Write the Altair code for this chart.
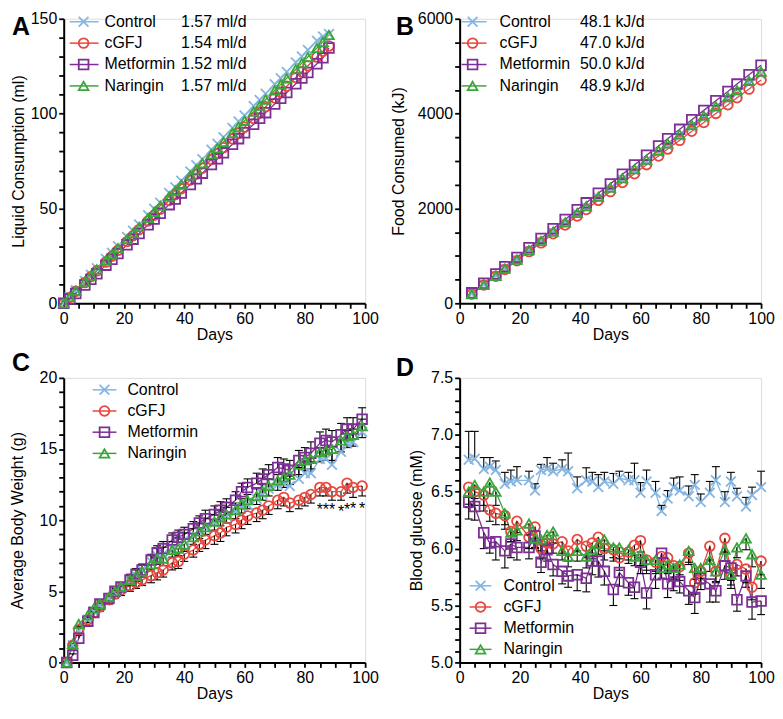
import altair as alt
import pandas as pd

FONT = "Liberation Sans"
SERIES = ["Control", "cGFJ", "Metformin", "Naringin"]
COLORS = ["#85b5e0", "#e8473d", "#7e2f95", "#3ba53b"]
SHAPES = ["M-1,-1L1,1M1,-1L-1,1", "circle", "square", "triangle-up"]

# ---------------- Panel A: liquid consumption (ml) ----------------
A_days = [0, 2, 4, 7, 9, 11, 14, 16, 18, 21, 23, 25, 28, 30, 32, 35, 37, 39, 42, 44,
          46, 49, 51, 53, 56, 58, 60, 63, 65, 67, 70, 72, 74, 77, 79, 81, 84, 86, 88]
A_control = [0.0, 3.4, 6.9, 11.8, 15.1, 18.5, 23.4, 26.6, 30.1, 35.0, 38.2, 41.5, 46.4, 49.8, 53.0,
             58.1, 61.2, 64.6, 69.5, 72.8, 76.0, 81.0, 84.1, 87.5, 92.4, 95.8, 99.0, 104.0, 107.2,
             110.5, 115.5, 118.6, 122.0, 127.0, 130.1, 133.5, 138.4, 140.6, 142.0]
A_cgfj = [0.0, 3.1, 6.3, 10.9, 14.0, 17.1, 21.7, 24.8, 27.9, 32.5, 35.6, 38.8, 43.4, 46.4, 49.6,
          54.2, 57.2, 60.4, 65.0, 68.1, 71.2, 75.8, 78.9, 82.0, 86.6, 89.7, 92.8, 97.4, 100.5,
          103.6, 108.2, 111.3, 114.4, 119.0, 122.1, 125.2, 129.8, 132.9, 135.6]
A_metformin = [0.0, 2.2, 5.1, 9.6, 12.6, 15.6, 20.1, 23.2, 26.2, 30.8, 33.8, 36.8, 41.4, 44.4, 47.4,
               52.0, 55.0, 58.1, 62.6, 65.6, 68.6, 73.2, 76.2, 79.3, 83.8, 86.8, 89.9, 94.4, 97.5,
               100.5, 105.1, 108.1, 111.1, 115.7, 118.7, 121.7, 126.3, 129.4, 134.6]
A_naringin = [0.0, 3.3, 6.6, 11.4, 14.6, 17.8, 22.6, 25.8, 29.0, 33.8, 37.0, 40.2, 45.0, 48.2, 51.4,
              56.3, 59.4, 62.6, 67.4, 70.6, 73.8, 78.6, 81.8, 85.0, 89.8, 93.0, 96.2, 101.0, 104.2,
              107.4, 112.2, 115.4, 118.6, 123.4, 126.6, 129.8, 134.6, 137.8, 141.5]
A_rates = ["1.57 ml/d", "1.54 ml/d", "1.52 ml/d", "1.57 ml/d"]

# ---------------- Panel B: food consumed (kJ) ----------------
B_days = [4, 8, 12, 15, 19, 23, 27, 31, 35, 39, 42, 46, 50, 54, 58, 62, 66, 69, 73, 77, 81, 85, 89, 92, 96, 100]
B_control = [200, 395, 583, 731, 920, 1115, 1304, 1500, 1690, 1886, 2026, 2222, 2410, 2607, 2795,
             2992, 3180, 3329, 3517, 3713, 3902, 4098, 4287, 4431, 4627, 4820]
B_cgfj = [195, 385, 570, 714, 898, 1090, 1274, 1466, 1650, 1842, 1979, 2171, 2355, 2547, 2731,
          2923, 3107, 3252, 3436, 3628, 3812, 4004, 4188, 4333, 4517, 4710]
B_metformin = [220, 422, 618, 772, 968, 1172, 1368, 1572, 1768, 1972, 2118, 2322, 2518, 2722, 2918,
               3122, 3318, 3472, 3668, 3872, 4068, 4272, 4468, 4622, 4818, 5020]
B_naringin = [190, 388, 579, 730, 922, 1121, 1313, 1512, 1704, 1904, 2046, 2246, 2437, 2637, 2829,
              3028, 3220, 3371, 3562, 3762, 3954, 4153, 4345, 4496, 4687, 4886]
B_rates = ["48.1 kJ/d", "47.0 kJ/d", "50.0 kJ/d", "48.9 kJ/d"]

# ---------------- Panel C: average body weight (g) ----------------
C_days = [1, 3, 5, 8, 10, 12, 15, 17, 19, 22, 24, 26, 29, 31, 33, 36, 38, 40, 43, 45, 47, 50,
          52, 54, 57, 59, 61, 64, 66, 68, 71, 73, 75, 78, 80, 82, 85, 87, 89, 92, 94, 96, 99]
C_control = [0.0, 1.2, 2.2, 3.0, 3.6, 4.0, 4.5, 4.9, 5.2, 5.7, 6.1, 6.5, 7.1, 7.5, 7.6, 8.0, 8.3, 8.6,
             8.9, 9.2, 9.5, 9.8, 10.1, 10.3, 10.6, 10.9, 11.1, 11.5, 11.8, 12.2, 12.5, 12.6, 12.4,
             12.9, 13.3, 13.3, 14.3, 14.3, 13.9, 14.8, 15.4, 15.5, 16.2]
C_cgfj = [0.0, 1.2, 2.3, 3.0, 3.5, 3.9, 4.4, 4.8, 5.1, 5.4, 5.6, 5.8, 6.1, 6.3, 6.5, 7.0, 7.1, 7.6,
          7.9, 8.3, 8.6, 8.9, 9.1, 9.5, 9.7, 10.0, 10.3, 10.5, 10.7, 11.0, 11.4, 11.6, 11.2, 11.4,
          11.6, 11.8, 12.3, 12.3, 12.0, 12.0, 12.6, 12.3, 12.4]
C_metformin = [0.0, 0.5, 1.7, 2.9, 3.5, 4.1, 4.5, 5.0, 5.3, 5.8, 6.2, 6.5, 7.2, 7.7, 8.0, 8.6, 8.8,
               9.0, 9.4, 9.8, 10.1, 10.4, 10.7, 10.9, 11.4, 12.0, 12.3, 12.6, 12.9, 13.2, 13.7, 13.6,
               13.5, 14.2, 14.4, 14.7, 15.4, 15.6, 15.5, 16.0, 16.4, 16.4, 17.1]
C_naringin = [0.0, 1.3, 2.7, 3.3, 3.8, 4.1, 4.6, 5.0, 5.3, 5.8, 6.1, 6.4, 6.9, 7.3, 7.3, 7.9, 8.0,
              8.3, 8.8, 9.2, 9.5, 9.9, 10.2, 10.4, 10.7, 11.1, 11.4, 11.7, 12.0, 12.4, 12.8, 13.0,
              13.2, 13.9, 14.2, 14.3, 14.8, 14.9, 15.0, 15.6, 15.9, 16.0, 16.6]
C_err_control = [0.0, 0.1, 0.2, 0.2, 0.2, 0.3, 0.3, 0.3, 0.3, 0.3, 0.4, 0.4, 0.4, 0.5, 0.5, 0.5, 0.5,
                 0.5, 0.5, 0.6, 0.6, 0.6, 0.6, 0.6, 0.6, 0.6, 0.7, 0.7, 0.7, 0.7, 0.7, 0.7, 0.7, 0.8,
                 0.8, 0.8, 0.8, 0.8, 0.8, 0.8, 0.9, 0.9, 0.9]
C_err_cgfj = [0.0, 0.1, 0.2, 0.2, 0.3, 0.3, 0.3, 0.3, 0.4, 0.4, 0.4, 0.4, 0.5, 0.5, 0.5, 0.5, 0.5,
              0.5, 0.5, 0.5, 0.6, 0.6, 0.6, 0.6, 0.6, 0.6, 0.6, 0.6, 0.6, 0.6, 0.6, 0.6, 0.6, 0.6,
              0.6, 0.6, 0.6, 0.6, 0.6, 0.6, 0.7, 0.7, 0.7]
C_err_metformin = [0.0, 0.1, 0.2, 0.2, 0.3, 0.3, 0.3, 0.3, 0.3, 0.4, 0.4, 0.4, 0.4, 0.5, 0.5, 0.5,
                   0.5, 0.5, 0.5, 0.5, 0.6, 0.6, 0.6, 0.6, 0.6, 0.6, 0.6, 0.7, 0.7, 0.7, 0.7, 0.7,
                   0.7, 0.7, 0.7, 0.8, 0.8, 0.8, 0.8, 0.8, 0.8, 0.8, 0.8]
C_err_naringin = [0.0, 0.1, 0.2, 0.2, 0.2, 0.3, 0.3, 0.3, 0.3, 0.4, 0.4, 0.4, 0.4, 0.4, 0.5, 0.5,
                  0.5, 0.5, 0.5, 0.5, 0.5, 0.6, 0.6, 0.6, 0.6, 0.6, 0.6, 0.6, 0.6, 0.7, 0.7, 0.7,
                  0.7, 0.7, 0.7, 0.7, 0.7, 0.7, 0.8, 0.8, 0.8, 0.8, 0.8]
C_star_days = [85, 87, 89, 92, 94, 96, 99]
C_star_y = [11.0, 11.0, 11.0, 10.85, 11.0, 11.05, 11.05]

# ---------------- Panel D: blood glucose (mM) ----------------
D_days = [3, 5, 8, 10, 12, 15, 17, 19, 23, 25, 27, 29, 31, 34, 36, 39, 42, 44, 46, 48, 51,
          53, 56, 58, 60, 62, 65, 67, 69, 71, 73, 76, 78, 80, 83, 85, 88, 90, 92, 95, 97, 100]
D_control = [6.78, 6.79, 6.70, 6.72, 6.69, 6.57, 6.59, 6.60, 6.60, 6.51, 6.69, 6.70, 6.68, 6.70,
             6.68, 6.53, 6.60, 6.59, 6.54, 6.59, 6.57, 6.62, 6.60, 6.60, 6.49, 6.59, 6.49, 6.33,
             6.44, 6.54, 6.51, 6.46, 6.56, 6.41, 6.49, 6.60, 6.41, 6.59, 6.46, 6.37, 6.47, 6.54]
D_cgfj = [6.54, 6.50, 6.47, 6.34, 6.31, 6.29, 6.15, 6.24, 6.10, 6.19, 6.00, 6.05, 6.04, 6.06,
          5.98, 6.08, 6.02, 6.05, 6.10, 6.00, 5.99, 5.92, 5.97, 6.03, 6.07, 5.90, 5.88, 5.93,
          5.92, 5.85, 5.84, 5.96, 5.70, 5.80, 6.02, 5.80, 6.09, 5.78, 5.86, 5.82, 5.66, 5.89]
D_metformin = [6.41, 6.37, 6.14, 6.05, 6.06, 5.98, 6.04, 6.01, 6.01, 6.11, 5.88, 5.99, 5.86, 5.80,
               5.76, 5.77, 5.74, 5.89, 5.89, 5.80, 5.64, 5.79, 5.70, 5.66, 5.88, 5.61, 5.77, 5.96,
               5.69, 5.76, 5.71, 5.63, 5.57, 5.74, 5.69, 5.63, 5.85, 5.83, 5.55, 5.76, 5.53, 5.54]
D_naringin = [6.50, 6.56, 6.50, 6.58, 6.50, 6.31, 6.14, 6.16, 6.22, 6.09, 6.08, 6.12, 6.15, 5.98,
              5.93, 5.98, 5.93, 5.99, 6.04, 6.08, 6.01, 6.01, 5.99, 5.93, 5.95, 5.90, 5.90, 5.83,
              5.86, 5.83, 5.86, 5.98, 5.83, 5.83, 5.90, 5.80, 5.99, 5.77, 6.01, 6.09, 5.95, 5.77]
D_err_control = [0.25, 0.24, 0.10, 0.08, 0.08, 0.10, 0.10, 0.12, 0.08, 0.06, 0.05, 0.10, 0.07, 0.08,
                 0.16, 0.10, 0.11, 0.08, 0.11, 0.08, 0.09, 0.06, 0.07, 0.15, 0.09, 0.10, 0.10, 0.05,
                 0.07, 0.08, 0.12, 0.09, 0.09, 0.07, 0.10, 0.12, 0.09, 0.08, 0.07, 0.08, 0.07, 0.14]
D_err_cgfj = [0.15, 0.12, 0.14, 0.10, 0.10, 0.12, 0.09, 0.10, 0.10, 0.10, 0.09, 0.10, 0.08, 0.10,
              0.09, 0.10, 0.10, 0.09, 0.09, 0.10, 0.10, 0.11, 0.10, 0.09, 0.10, 0.12, 0.10, 0.10,
              0.11, 0.10, 0.12, 0.10, 0.10, 0.11, 0.12, 0.10, 0.12, 0.10, 0.10, 0.12, 0.11, 0.12]
D_err_metformin = [0.15, 0.12, 0.14, 0.09, 0.16, 0.15, 0.12, 0.11, 0.10, 0.10, 0.09, 0.10, 0.10, 0.11,
                   0.10, 0.14, 0.12, 0.12, 0.14, 0.12, 0.14, 0.12, 0.11, 0.10, 0.10, 0.14, 0.12, 0.10,
                   0.12, 0.13, 0.10, 0.12, 0.14, 0.10, 0.16, 0.10, 0.12, 0.11, 0.10, 0.10, 0.15, 0.12]
D_err_naringin = [0.14, 0.12, 0.12, 0.10, 0.12, 0.10, 0.08, 0.09, 0.10, 0.09, 0.10, 0.09, 0.10, 0.08,
                  0.09, 0.09, 0.10, 0.08, 0.09, 0.10, 0.09, 0.10, 0.09, 0.08, 0.10, 0.09, 0.10, 0.09,
                  0.08, 0.10, 0.09, 0.10, 0.10, 0.09, 0.10, 0.09, 0.10, 0.12, 0.09, 0.10, 0.11, 0.12]


def long_table(days, values, errs=None, dirs=None):
    rows = []
    for i, s in enumerate(SERIES):
        for j, d in enumerate(days):
            r = {"series": s, "day": d, "value": values[i][j]}
            if errs is not None:
                r["err"] = errs[i][j]
                r["end"] = values[i][j] + dirs[i] * errs[i][j]
            rows.append(r)
    return pd.DataFrame(rows)


def tick_axis(values, major_test, **kw):
    # every tick value is drawn; only the major ones get a label
    return alt.Axis(values=values, labelExpr=f"({major_test}) ? datum.label : ''",
                    labelFlush=False, labelOverlap=False, **kw)


def panel(df, ydom, yall, ytest, ytitle, tpad, yfmt, letter, lpos, leg, rates=None,
          errbars=False, stars=None):
    xs = alt.Scale(domain=[0, 100], nice=False, zero=False)
    ys = alt.Scale(domain=ydom, nice=False, zero=False)
    color = alt.Color("series:N", scale=alt.Scale(domain=SERIES, range=COLORS), legend=None)
    shape = alt.Shape("series:N", scale=alt.Scale(domain=SERIES, range=SHAPES), legend=None)
    base = alt.Chart(df)
    XN = alt.X("day:Q", scale=xs, axis=None)
    xaxis = tick_axis(list(range(0, 101, 5)), "datum.value % 20 === 0", title="Days",
                      format="d", orient="bottom", titlePadding=0)
    yaxis = tick_axis(yall, ytest, title=ytitle, format=yfmt, titlePadding=tpad, orient="left")
    layers = [
        base.mark_line(strokeWidth=1.3).encode(
            x=alt.X("day:Q", scale=xs, axis=xaxis),
            y=alt.Y("value:Q", scale=ys, axis=yaxis),
            color=color, detail="series:N"),
    ]
    if errbars:
        eb = base.transform_filter("datum.err > 0")
        layers.append(eb.mark_rule(color="black", strokeWidth=1.1).encode(
            x=XN, y=alt.Y("value:Q", scale=ys, axis=None), y2="end:Q"))
        layers.append(eb.mark_rule(color="black", strokeWidth=1.1, xOffset=-4, x2Offset=4).encode(
            x=XN, x2="day:Q", y=alt.Y("end:Q", scale=ys, axis=None)))
    layers.append(base.mark_point(filled=False, size=95, strokeWidth=1.8, opacity=1).encode(
        x=XN, y=alt.Y("value:Q", scale=ys, axis=None), color=color, shape=shape))
    if stars is not None:
        layers.append(alt.Chart(stars).mark_text(fontSize=16, font=FONT, color="black",
                                                 baseline="middle", dy=4).encode(
            x=XN, y=alt.Y("y:Q", scale=ys, axis=None), text="t:N"))
    # legend drawn inside the plot
    ldf = pd.DataFrame({"series": SERIES, "name": SERIES, "idx": list(range(4)),
                        "rate": rates if rates else [""] * 4})
    lb = alt.Chart(ldf).transform_calculate(py=f"{leg['y0']} + datum.idx * {leg['dy']}")
    PY = alt.Y("py:Q", scale=None, axis=None)
    layers.append(lb.mark_rule(strokeWidth=1.5).encode(
        x=alt.value(leg["x0"]), x2=alt.value(leg["x1"]), y=PY, color=color))
    layers.append(lb.mark_point(filled=False, size=95, strokeWidth=1.8, opacity=1).encode(
        x=alt.value(leg["xc"]), y=PY, color=color, shape=shape))
    layers.append(lb.mark_text(align="left", baseline="middle", fontSize=16, font=FONT,
                               color="black").encode(x=alt.value(leg["xn"]), y=PY, text="name:N"))
    if rates:
        layers.append(lb.mark_text(align="left", baseline="middle", fontSize=16, font=FONT,
                                   color="black").encode(x=alt.value(leg["xr"]), y=PY, text="rate:N"))
    layers.append(alt.Chart(pd.DataFrame({"letter": [letter]})).mark_text(
        align="left", baseline="alphabetic", fontSize=25, fontWeight="bold", font=FONT,
        color="black").encode(x=alt.value(lpos[0]), y=alt.value(lpos[1]), text="letter:N"))

    return alt.layer(*layers).resolve_axis(x="independent", y="independent").properties(
        width=303, height=286)


dfA = long_table(A_days, [A_control, A_cgfj, A_metformin, A_naringin])
dfB = long_table(B_days, [B_control, B_cgfj, B_metformin, B_naringin])
dfC = long_table(C_days, [C_control, C_cgfj, C_metformin, C_naringin],
                 [C_err_control, C_err_cgfj, C_err_metformin, C_err_naringin], [1, -1, 1, -1])
dfD = long_table(D_days, [D_control, D_cgfj, D_metformin, D_naringin],
                 [D_err_control, D_err_cgfj, D_err_metformin, D_err_naringin], [1, -1, -1, -1])
stars = pd.DataFrame({"day": C_star_days, "y": C_star_y, "t": ["*"] * len(C_star_days)})

pA = panel(dfA, [0, 150], list(range(0, 151, 10)), "datum.value % 50 === 0",
           "Liquid Consumption (ml)", 4, "d", "A", (-52, 16),
           {"x0": 6, "x1": 35, "xc": 20, "xn": 41, "xr": 118, "y0": 3, "dy": 21.5}, rates=A_rates)
pB = panel(dfB, [0, 6000], list(range(0, 6001, 500)), "datum.value % 2000 === 0",
           "Food Consumed (kJ)", 11, "d", "B", (-64, 16),
           {"x0": 2, "x1": 27, "xc": 13, "xn": 40, "xr": 121, "y0": 3, "dy": 21.5}, rates=B_rates)
pC = panel(dfC, [0, 20], list(range(0, 21)), "datum.value % 5 === 0",
           "Average Body Weight (g)", 14, "d", "C", (-52, -7),
           {"x0": 29, "x1": 53, "xc": 41, "xn": 64, "y0": 12, "dy": 21.3}, errbars=True, stars=stars)
pD = panel(dfD, [5.0, 7.5], [round(5 + 0.1 * k, 1) for k in range(26)],
           "abs(datum.value * 2 - round(datum.value * 2)) < 0.001",
           "Blood glucose (mM)", 6, ".1f", "D", (-64, -2),
           {"x0": 10, "x1": 32, "xc": 21, "xn": 44, "y0": 209, "dy": 21.3}, errbars=True)

chart = alt.concat(pA, pB, pC, pD, columns=2, spacing={"row": 75, "column": 95},
                   bounds="flush").properties(
    padding={"left": 0, "top": 0, "right": 0, "bottom": 0}
).configure_view(stroke=None).configure(font=FONT).configure_axis(
    domainColor="black", domainWidth=2, tickColor="black", tickWidth=1.8, tickSize=5,
    labelColor="black", labelFont=FONT, labelFontSize=16, labelPadding=2,
    titleFont=FONT, titleFontSize=16, titleFontWeight="normal", titleColor="black", grid=False)

chart.save("out.html", embed_options={"renderer": "svg", "actions": False})
